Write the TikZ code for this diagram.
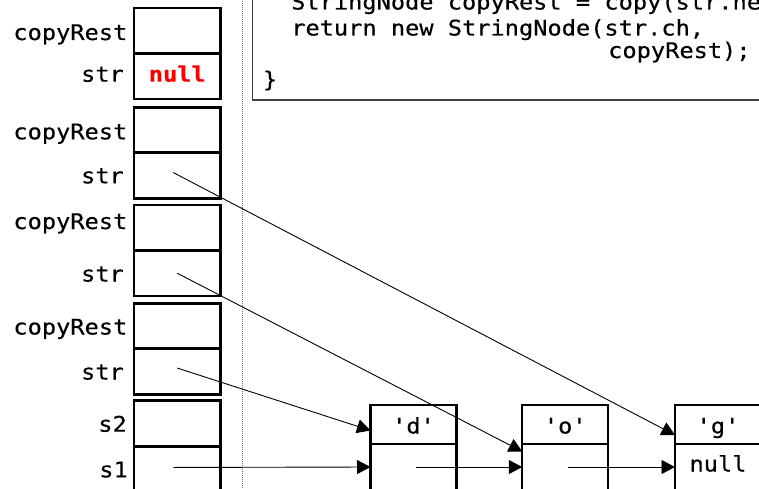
\documentclass[tikz,border=0pt]{standalone}
\usepackage{fontspec}
\setmonofont[FakeStretch=1.1,FakeBold=0.35]{DejaVu Sans Mono}
\usetikzlibrary{arrows.meta,calc}
\begin{document}
\begin{tikzpicture}[x=1pt,y=-1pt,
  lbl/.style={font=\ttfamily\fontsize{21.5}{24}\selectfont, inner sep=0pt, anchor=base east},
  txt/.style={font=\ttfamily\fontsize{21.5}{24}\selectfont, inner sep=0pt, anchor=base},
  codeln/.style={font=\ttfamily\fontsize{21.5}{24}\selectfont, inner sep=0pt, anchor=base west},
  fcell/.style={draw=black, line width=2.7pt, minimum width=86.5pt, minimum height=45.5pt, inner sep=0pt, outer sep=0pt},
  rcell/.style={draw=black, line width=1.3pt, minimum width=86pt, inner sep=0pt, outer sep=0pt},
  rbox/.style={draw=black, line width=2.3pt},
  ptr/.style={line width=0.9pt, -{Triangle[length=13.5pt,width=14pt]}},
  codebox/.style={draw=black!75, line width=1.2pt},
  sepline/.style={draw=black!55, line width=0.8pt, dash pattern=on 1pt off 1pt}]
\useasboundingbox (0,0) rectangle (759,489);
\clip (0,0) rectangle (759,489);

% separator and code box
\draw[sepline] (242,-5) -- (242,495);
\draw[codebox] (252.3,-20) rectangle (790,100);
\node[codeln] (c1) at (291,9.5) {StringNode copyRest = copy(str.next);};
\node[codeln] (c2) at (291,35.5) {return new StringNode(str.ch,};
\node[codeln] (c3) at (608,58) {copyRest);};
\node[font=\ttfamily\fontsize{21.5}{24}\selectfont, inner sep=0pt] (c4) at (270,80.5) {\}};

% stack frames
\node[fcell] (f1c) at (177.25,30.75) {};
\node[fcell] (f1s) at (177.25,76.25) {};
\node[fcell] (f2c) at (177.25,130.05) {};
\node[fcell] (f2s) at (177.25,175.55) {};
\node[fcell] (f3c) at (177.25,227.75) {};
\node[fcell] (f3s) at (177.25,273.25) {};
\node[fcell] (f4c) at (177.25,326.05) {};
\node[fcell] (f4s) at (177.25,371.55) {};
\node[fcell] (s2) at (177.25,423.45) {};
\node[fcell] (s1) at (177.25,468.95) {};

% labels
\node[lbl] (l1c) at (127.5,40) {copyRest};
\node[lbl] (l1s) at (124,81.7) {str};
\node[lbl] (l2c) at (127.5,139.3) {copyRest};
\node[lbl] (l2s) at (124,183.3) {str};
\node[lbl] (l3c) at (127.5,229) {copyRest};
\node[lbl] (l3s) at (124,281.5) {str};
\node[lbl] (l4c) at (127.5,334.5) {copyRest};
\node[lbl] (l4s) at (124,379.5) {str};
\node[lbl] (ls2) at (127,431.7) {s2};
\node[lbl] (ls1) at (128,477.3) {s1};
\node[txt, text=red, font=\ttfamily\bfseries\fontsize{21.5}{24}\selectfont] (rnull) at (177.25,81.7) {null};

% list nodes
\node[rcell, minimum height=39pt] (dtop) at (413.5,424.5) {};
\node[rcell, minimum height=46pt] (dbot) at (413.5,467) {};
\node[rcell, minimum height=39pt] (otop) at (565.25,424.5) {};
\node[rcell, minimum height=46pt] (obot) at (565.25,467) {};
\node[rcell, minimum height=39pt] (gtop) at (718,424.5) {};
\node[rcell, minimum height=46pt] (gbot) at (718,467) {};
\draw[rbox] (dtop.north west) rectangle (dbot.south east);
\draw[rbox] (otop.north west) rectangle (obot.south east);
\draw[rbox] (gtop.north west) rectangle (gbot.south east);
\node[txt] (dch) at (413.5,433.5) {'d'};
\node[txt] (och) at (565.25,433.5) {'o'};
\node[txt] (gch) at (718,433.5) {'g'};
\node[txt] (gnull) at (718,471.5) {null};

% pointers
\draw[ptr] ([xshift=-4pt,yshift=1.5pt]s1.center) -- (dbot.west);
\draw[ptr] ([xshift=2.5pt]dbot.center) -- (obot.west);
\draw[ptr] ([xshift=2.5pt]obot.center) -- (gbot.west);
\draw[ptr] ([yshift=3.5pt]f4s.center) -- ($(dtop.west)+(0,6)$);
\draw[ptr] (f3s.center) -- ($(obot.north west)+(0,7.5)$);
\draw[ptr] ([shift={(-4pt,3pt)}]f2s.center) -- ($(gtop.west)+(0,10.5)$);
\end{tikzpicture}
\end{document}
